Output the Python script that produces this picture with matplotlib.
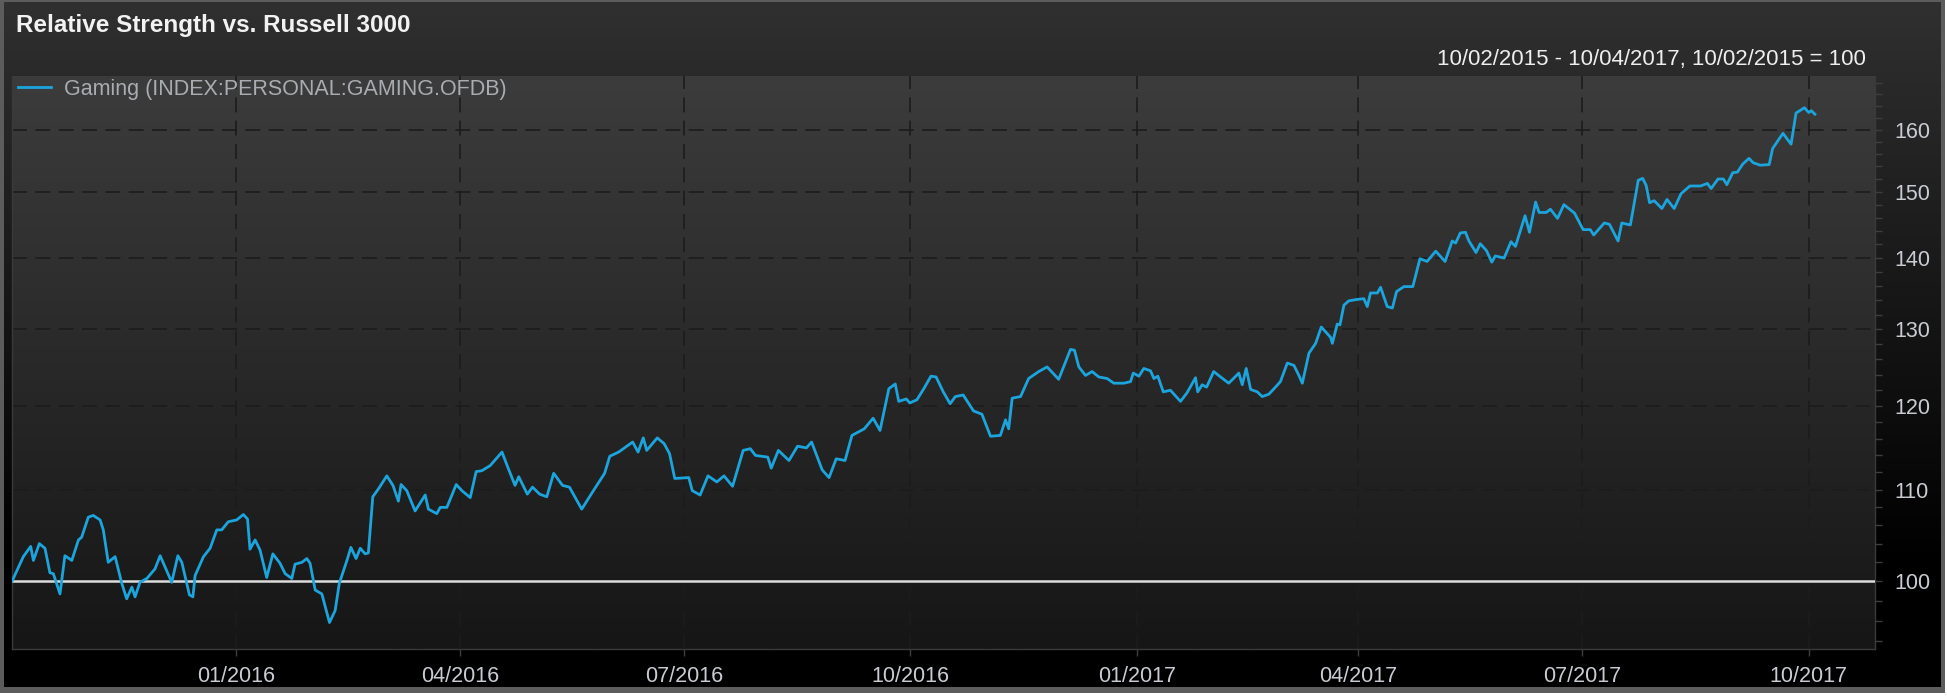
import matplotlib

matplotlib.use("Agg")
import matplotlib.dates as mdates
import matplotlib.pyplot as plt
import numpy as np
import pandas as pd
from matplotlib.patches import Rectangle
from matplotlib.ticker import FixedLocator, FixedFormatter, NullFormatter

W, H = 1947, 696
C_LINE = "#1ca4dd"
C_BASE = "#dcdcdc"
C_GRID = "#1c1c1c"
C_TEXT = "#c9cdd3"
FONT = "Liberation Sans"

TITLE = "Relative Strength vs. Russell 3000"
SUBTITLE = "10/02/2015 - 10/04/2017, 10/02/2015 = 100"
SERIES_NAME = "Gaming (INDEX:PERSONAL:GAMING.OFDB)"
START = "2015-10-02"

# days after 10/02/2015
days = [
    0, 4.6, 7.6, 8.7, 11.1, 13.4, 15.4, 16.8, 19.5, 21.5, 24.3, 27.0, 28.3, 31.0,
    33.0, 35.8, 37.1, 39.1, 41.9, 44.6, 46.6, 48.7, 50.0, 52.0, 54.8, 58.1, 60.2,
    62.2, 64.9, 67.4, 69.0, 72.1, 73.5, 74.4, 77.8, 80.5, 83.2, 85.2, 87.9, 91.3,
    94.0, 95.7, 96.7, 98.8, 100.8, 103.5, 106.0, 108.9, 111.0, 113.7, 115.0, 117.8,
    119.8, 121.1, 123.2, 125.9, 129.0, 131.3, 133.0, 136.1, 137.7, 139.8, 141.5,
    143.5, 144.8, 146.6, 148.9, 152.3, 154.8, 157.0, 158.1, 160.4, 163.8, 167.9,
    169.2, 172.6, 174.0, 176.7, 180.5, 182.8, 186.2, 188.6, 190.9, 194.3,
    199.1, 201.6, 204.4, 205.9, 209.4, 211.5, 214.4, 217.3, 220.1, 223.7, 226.5,
    231.5, 235.8, 240.8, 242.9, 246.5, 252.2, 254.4, 256.5, 257.9, 262.2, 265.0,
    267.2, 269.3, 275.0, 276.4, 279.6, 282.8, 286.4, 289.3, 292.8, 297.1, 300.0,
    302.1, 307.1, 308.5, 311.4, 315.7, 319.2, 322.8, 324.9, 329.2, 332.0, 334.9,
    338.5, 341.3, 346.3, 349.9, 352.7, 356.3, 358.9, 360.3, 363.4, 364.8, 367.7,
    370.5, 373.4, 375.5, 378.4, 381.2, 383.3, 386.5, 390.7, 394.1, 397.6, 401.6,
    403.7, 405.0, 406.4, 409.8, 413.1, 417.2, 420.6, 425.3, 430.1, 431.7, 433.5,
    436.2, 438.9, 441.6, 445.0, 447.7, 451.8, 454.5, 455.6, 457.9, 459.9, 462.6,
    464.0, 465.6, 467.8, 470.7, 474.8, 477.5, 480.9, 481.8, 483.6, 485.4, 488.3,
    491.1, 494.4, 498.5, 499.9, 501.5, 503.3, 506.0, 508.0, 510.7, 513.4, 515.4,
    518.2, 520.9, 522.9, 524.3, 527.0, 529.7, 532.0, 535.8, 536.5, 538.5, 539.6,
    541.2, 543.2, 546.6, 549.3, 550.7, 552.0, 554.8, 556.1, 558.8, 560.9, 562.6,
    565.6, 569.2, 572.1, 575.0, 578.5, 582.3, 585.2, 586.6, 588.5, 590.6, 592.0,
    594.9, 596.6, 599.1, 601.3, 602.7, 606.3, 609.1, 610.9, 614.8, 616.6, 619.1,
    620.5, 623.4, 625.1, 628.0, 630.6, 634.9, 638.4, 641.3, 642.7, 647.0, 649.1,
    652.6, 654.1, 657.6, 660.8, 662.6, 664.0, 665.4, 667.3, 670.4, 672.5, 675.4,
    678.2, 681.8, 686.1, 688.9, 690.4, 693.2, 695.4, 696.8, 699.2, 701.1, 703.3,
    705.8, 707.5, 710.4, 714.0, 715.4, 719.6, 722.9, 724.9, 726.4, 728.3, 730.1,
    731.1, 732.6,
]
values = [
    100.0, 102.6, 103.7, 102.2, 104.0, 103.5, 100.9, 100.8, 98.7, 102.7, 102.2,
    104.4, 104.7, 106.9, 107.1, 106.6, 105.5, 102.0, 102.6, 99.8, 98.2, 99.4, 98.4,
    99.9, 100.3, 101.3, 102.7, 101.5, 99.9, 102.7, 102.0, 98.6, 98.4, 100.6, 102.6,
    103.5, 105.5, 105.5, 106.4, 106.6, 107.2, 106.7, 103.4, 104.4, 103.3, 100.4,
    102.9, 101.9, 100.8, 100.3, 101.8, 102.0, 102.4, 101.9, 99.1, 98.7, 95.8, 97.0,
    99.8, 102.2, 103.6, 102.4, 103.5, 102.9, 103.0, 109.2, 110.1, 111.6, 110.5,
    108.7, 110.6, 109.9, 107.6, 109.4, 107.8, 107.3, 108.0, 108.0, 110.6, 109.9,
    109.1, 112.1, 112.2, 112.8,
    114.4, 112.5, 110.5, 111.5, 109.5, 110.3, 109.5, 109.2, 111.9, 110.5, 110.3,
    107.8, 109.7, 111.9, 113.9, 114.4, 115.6, 114.4, 116.1, 114.6, 116.1, 115.4,
    114.2, 111.3, 111.4, 109.9, 109.4, 111.6, 110.9, 111.6, 110.4, 114.6, 114.8,
    114.0, 113.8, 112.5, 114.6, 113.4, 115.1, 114.9, 115.6, 112.3, 111.4, 113.6,
    113.4, 116.4, 117.2, 118.5, 117.0, 122.2, 122.8, 120.6, 120.9, 120.4, 120.8,
    122.2, 123.8, 123.7, 121.8, 120.3, 121.2, 121.4, 119.4, 119.0, 116.3, 116.4,
    118.3, 117.2, 121.0, 121.2, 123.5, 124.4, 125.0, 123.4, 127.3, 127.2, 125.0,
    123.9, 124.4, 123.7, 123.5, 122.9, 122.9, 123.1, 124.2, 123.8, 124.8, 124.5,
    123.5, 123.8, 121.8, 122.0, 120.6, 121.7, 123.6, 121.8, 122.7, 122.4, 124.4,
    123.7, 122.9, 124.2, 122.7, 124.8, 122.1, 121.8, 121.2, 121.5, 122.4, 123.1,
    125.5, 125.2, 123.9, 122.9, 126.8, 128.1, 130.3, 128.9, 128.1, 130.7, 130.6,
    133.3, 133.9, 134.1, 134.2, 133.1, 135.0, 135.0, 135.8, 133.1, 132.9, 135.2,
    135.9, 135.9, 139.9, 139.5, 141.0, 139.5, 142.5, 142.2, 143.7, 143.8, 142.5,
    140.8, 142.1, 141.1, 139.4, 140.3, 140.0, 142.4, 141.7, 146.3, 143.8, 148.4,
    146.8, 146.8, 147.3, 145.9, 148.0, 146.7, 144.2, 144.2, 143.4, 145.2, 145.0,
    142.5, 145.2, 144.9, 151.8, 152.1, 151.0, 148.3, 148.6, 147.4, 148.8, 147.4,
    149.7, 150.9, 150.9, 151.3, 150.5, 152.0, 152.0, 151.1, 153.0, 153.1, 154.4,
    155.3, 154.6, 154.2, 154.3, 156.9, 159.4, 157.6, 162.8, 163.2, 163.7, 162.9,
    163.2, 162.6,
]

y_major = [100, 110, 120, 130, 140, 150, 160]
y_minor = [94, 96, 98, 102, 104, 106, 108, 112, 114, 116, 118, 122, 124, 126, 128,
           132, 134, 136, 138, 142, 144, 146, 148, 152, 154, 156, 158, 162, 164, 166, 168]
x_ticks = ["2016-01-01", "2016-04-01", "2016-07-01", "2016-10-01",
           "2017-01-01", "2017-04-01", "2017-07-01", "2017-10-01"]
x_range = ["2015-10-02", "2017-10-28"]
y_range = [93.2, 169.2]


def fx(x):
    return x / W


def fy(y):
    return 1 - y / H


def vgrad(top, bottom, n=256, stop=1.0):
    t = np.clip(np.linspace(0, 1, n) / stop, 0, 1)[:, None]
    top = np.array(matplotlib.colors.to_rgb(top))
    bottom = np.array(matplotlib.colors.to_rgb(bottom))
    g = top[None, :] * (1 - t) + bottom[None, :] * t
    return g[:, None, :]


fig = plt.figure(figsize=(W / 100, H / 100), dpi=100)
fig.patch.set_facecolor("white")

# background panel in pixel coordinates
bg = fig.add_axes([0, 0, 1, 1], zorder=0)
bg.axis("off")
bg.add_patch(Rectangle((0, 0), 1945, 693, facecolor="#5c5c5c", edgecolor="none", zorder=0))
bg.imshow(vgrad("#303030", "#000000", stop=0.82), extent=(4, 1941, 687, 2),
          aspect="auto", interpolation="bilinear", zorder=1)
ax_l, ax_r, ax_t, ax_b = 12, 1875, 76, 649
bg.imshow(vgrad("#3c3c3c", "#161616"), extent=(ax_l, ax_r, ax_b, ax_t),
          aspect="auto", interpolation="bilinear", zorder=2)
bg.set_xlim(0, W)
bg.set_ylim(H, 0)

ax = fig.add_axes([fx(ax_l), fy(ax_b), fx(ax_r - ax_l), (ax_b - ax_t) / H], zorder=1)
ax.set_facecolor("none")

dates = pd.Timestamp(START) + pd.to_timedelta(days, unit="D")
ax.plot(dates, values, color=C_LINE, lw=2.0, zorder=4, label=SERIES_NAME)
ax.axhline(100, color=C_BASE, lw=1.8, zorder=3)

ax.set_yscale("log")
ax.set_ylim(*y_range)
ax.set_xlim(pd.Timestamp(x_range[0]), pd.Timestamp(x_range[1]))

ax.yaxis.set_major_locator(FixedLocator(y_major))
ax.yaxis.set_major_formatter(FixedFormatter([str(v) for v in y_major]))
ax.yaxis.set_minor_locator(FixedLocator(y_minor))
ax.yaxis.set_minor_formatter(NullFormatter())
ax.yaxis.tick_right()

ax.xaxis.set_major_locator(FixedLocator(mdates.date2num(pd.to_datetime(x_ticks))))
ax.xaxis.set_major_formatter(mdates.DateFormatter("%m/%Y"))
ax.xaxis.set_minor_locator(FixedLocator([]))

ax.tick_params(axis="both", which="major", colors="#3e3e3e", labelcolor=C_TEXT,
               labelsize=15.5, length=5, width=1)
ax.tick_params(axis="y", which="major", pad=9)
ax.tick_params(axis="x", which="major", pad=7)
ax.tick_params(axis="y", which="minor", colors="#3e3e3e", length=5, width=1)
for lab in ax.get_xticklabels() + ax.get_yticklabels():
    lab.set_family(FONT)

ax.grid(True, which="major", axis="both", color=C_GRID, ls=(0, (9, 5)), lw=1.2, zorder=1)
for side, sp in ax.spines.items():
    sp.set_color("#3a3a3a")
    sp.set_linewidth(1)
ax.spines["top"].set_visible(False)

leg = ax.legend(loc="center left", bbox_to_anchor=(fx(18), fy(89)),
                bbox_transform=fig.transFigure, frameon=False, borderpad=0,
                borderaxespad=0, handlelength=1.55, handletextpad=0.6,
                prop={"family": FONT, "size": 15.5})
for t in leg.get_texts():
    t.set_color("#a9acb0")

fig.text(fx(16), fy(32), TITLE, ha="left", va="baseline", fontsize=17.5,
         fontweight="bold", color="#f2f2f2", family=FONT)
fig.text(fx(1866), fy(65), SUBTITLE, ha="right", va="baseline", fontsize=16,
         color="#eeeeee", family=FONT)

fig.savefig("out.png", dpi=100, facecolor="white")
plt.close(fig)
